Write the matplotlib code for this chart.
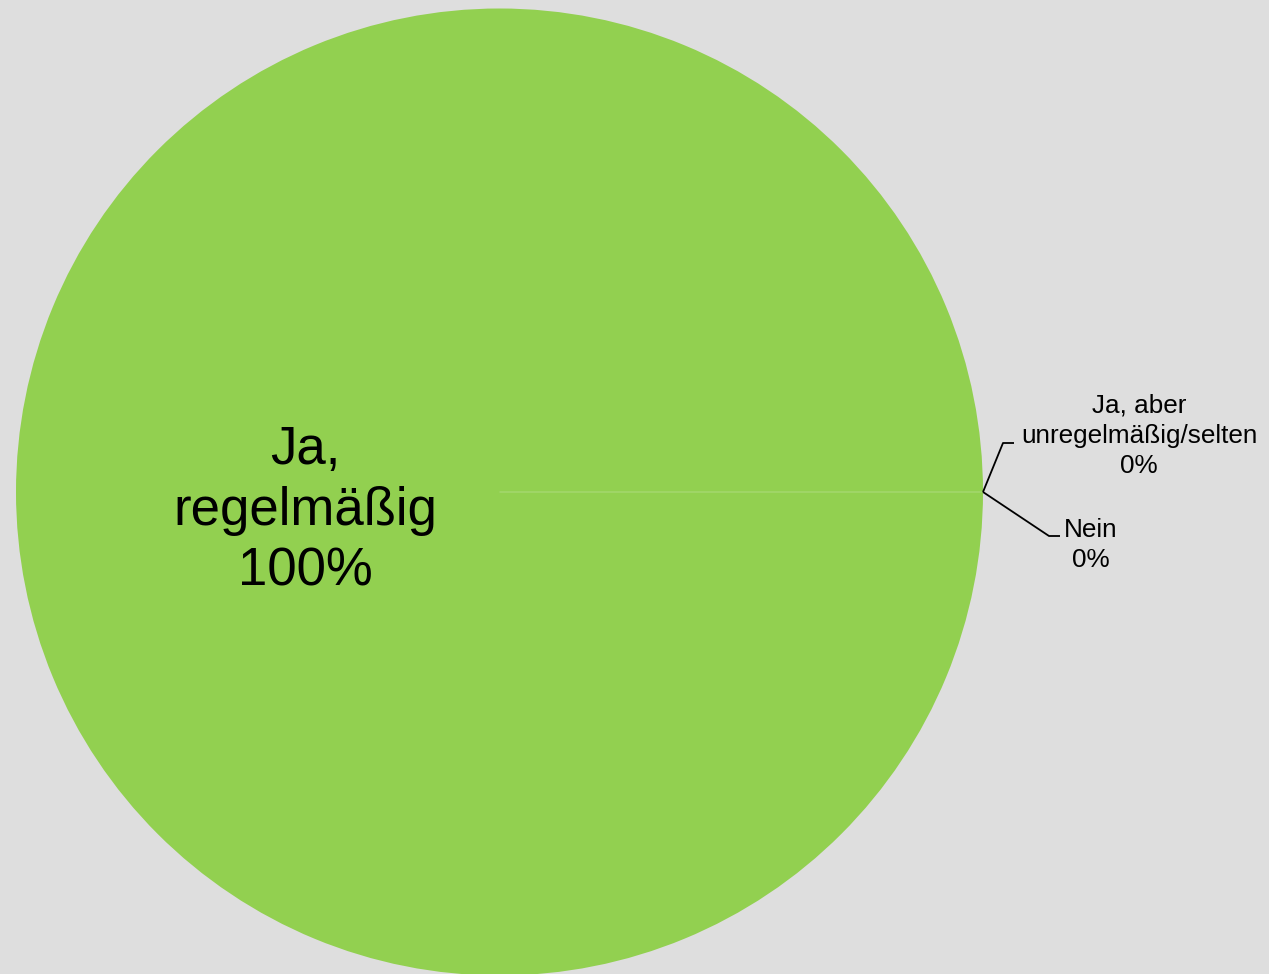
import matplotlib
matplotlib.use("Agg")
import matplotlib.pyplot as plt

# survey answers and their shares (%)
answers = ["Ja,\nregelmäßig", "Ja, aber\nunregelmäßig/selten", "Nein"]
shares = [100, 0, 0]
slice_colors = ["#92d050", "#92d050", "#92d050"]

BG = "#dedede"
W, H = 1269, 974
CX, CY, R = 499.5, 492, 483.5   # pie centre / radius in pixels


def px(x, y):
    # pixel position -> data coords (pie radius = 1)
    return (x - CX) / R, (CY - y) / R


plt.rcParams["font.family"] = ["Liberation Sans", "DejaVu Sans"]

fig = plt.figure(figsize=(W / 100, H / 100), dpi=100, facecolor=BG)
ax = fig.add_axes([0, 0, 1, 1])
ax.set_facecolor(BG)

wedges, _ = ax.pie(shares, colors=slice_colors, startangle=0, counterclock=False,
                   radius=1, center=(0, 0),
                   wedgeprops=dict(linewidth=0))
for w in wedges[1:]:
    w.set_edgecolor("#a6d973")
    w.set_linewidth(0.6)

ax.set_xlim(px(0, 0)[0], px(W, 0)[0])
ax.set_ylim(px(0, H)[1], px(0, 0)[1])
ax.set_aspect("auto")
ax.axis("off")

texts = [f"{a}\n{s}%" for a, s in zip(answers, shares)]

# big label inside the slice
ax.text(*px(305, 511), texts[0], ha="center", va="center", fontsize=38,
        linespacing=1.28)

# outside labels with leader lines
ax.text(*px(1139, 436), texts[1], ha="center", va="center", fontsize=18.8,
        linespacing=1.32)
ax.text(*px(1091, 545), texts[2], ha="center", va="center", fontsize=18.8,
        linespacing=1.32)

leader1 = [px(983, 492), px(1003, 443), px(1014, 443)]
leader2 = [px(983, 492), px(1049, 536), px(1060, 536)]
for pts in (leader1, leader2):
    xs, ys = zip(*pts)
    ax.plot(xs, ys, color="black", lw=1.3, solid_capstyle="butt")

fig.savefig("out.png", dpi=100, facecolor=BG)
